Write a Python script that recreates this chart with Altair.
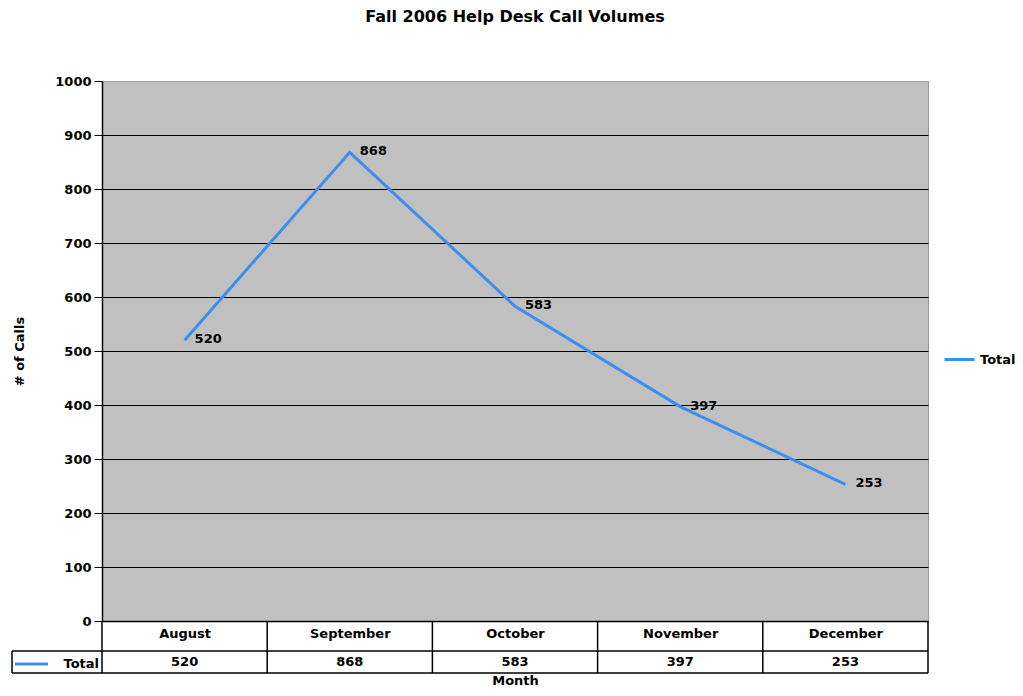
import altair as alt
import pandas as pd

months = ["August", "September", "October", "November", "December"]
calls = [520, 868, 583, 397, 253]
series = ["Total"]
y_ticks = [0, 100, 200, 300, 400, 500, 600, 700, 800, 900, 1000]

df = pd.DataFrame({"month": months, "calls": calls, "series": series * len(months)})
sdf = pd.DataFrame({"series": series})

W, H = 826, 540
STEP = W / len(months)
ROW1 = 570
ROW2 = 592
BLUE = "#3a8ff0"
FONT = "DejaVu Sans"
FS = 13

xs = alt.Scale(type="point", padding=0.5)
x_enc = alt.X("month:O", sort=months, scale=xs)

base = alt.Chart(df)

line = base.mark_line(strokeWidth=3).encode(
    x=alt.X(
        "month:O", sort=months, scale=xs,
        axis=alt.Axis(
            title="Month", labelAngle=0, ticks=False, tickSize=0, domainColor="black",
            domainWidth=1.5, labelPadding=6, labelFont=FONT, labelFontWeight="bold",
            labelFontSize=FS, labelColor="black", titleFont=FONT, titleFontWeight="bold",
            titleFontSize=FS, titleColor="black", titleY=66, titleBaseline="bottom",
        ),
    ),
    y=alt.Y(
        "calls:Q", scale=alt.Scale(domain=[0, 1000], nice=False),
        axis=alt.Axis(
            title="# of Calls", values=y_ticks, format="d", grid=True,
            gridColor={"condition": {"test": "datum.value == 1000", "value": "#9a9a9a"}, "value": "black"},
            gridWidth=1, domainColor="black", domainWidth=1.5, tickColor="black", tickSize=8,
            labelPadding=3, labelFont=FONT, labelFontWeight="bold", labelFontSize=FS,
            labelColor="black", titleFont=FONT, titleFontWeight="bold", titleFontSize=FS,
            titleColor="black", titleX=-76, titleY=H / 2, titleAngle=-90,
        ),
    ),
    color=alt.Color(
        "series:N", scale=alt.Scale(domain=series, range=[BLUE]),
        legend=alt.Legend(
            title=None, orient="none", legendX=841, legendY=262, symbolType="stroke",
            symbolStrokeWidth=3, symbolSize=900, labelFont=FONT, labelFontWeight="bold",
            labelFontSize=FS, labelColor="black",
        ),
    ),
)

labels = base.mark_text(
    align="left", baseline="middle", dx=10, dy=-1, font=FONT, fontWeight="bold",
    fontSize=FS, color="black",
).encode(x=x_enc, y="calls:Q", text="calls:Q")

table_vals = base.mark_text(
    align="center", baseline="middle", font=FONT, fontWeight="bold", fontSize=FS, color="black",
).encode(x=x_enc, y=alt.value((ROW1 + ROW2) / 2), text="calls:Q")

vrules = base.mark_rule(color="black", strokeWidth=1.5, xOffset=-STEP / 2).encode(
    x=x_enc, y=alt.value(H), y2=alt.value(ROW2)
)

edge = alt.Chart(sdf).mark_rule(color="black", strokeWidth=1.5)
right_rule = edge.encode(x=alt.value(W), y=alt.value(H), y2=alt.value(ROW2))
left_rule = edge.encode(x=alt.value(-90), y=alt.value(ROW1), y2=alt.value(ROW2))
hrule1 = edge.encode(x=alt.value(-90), x2=alt.value(W), y=alt.value(ROW1))
hrule2 = edge.encode(x=alt.value(-90), x2=alt.value(W), y=alt.value(ROW2))

leg_line = alt.Chart(sdf).mark_rule(color=BLUE, strokeWidth=3).encode(
    x=alt.value(-87), x2=alt.value(-54), y=alt.value((ROW1 + ROW2) / 2 + 2)
)
leg_text = alt.Chart(sdf).mark_text(
    align="right", baseline="middle", font=FONT, fontWeight="bold", fontSize=FS, color="black",
).encode(x=alt.value(-3), y=alt.value((ROW1 + ROW2) / 2 + 2), text="series:N")

chart = alt.layer(
    line, labels, table_vals, vrules, right_rule, left_rule, hrule1, hrule2, leg_line, leg_text
).properties(
    width=W, height=H,
    title=alt.Title(
        "Fall 2006 Help Desk Call Volumes", font=FONT, fontSize=16, fontWeight="bold",
        color="black", offset=50, anchor="middle",
    ),
    autosize=alt.AutoSizeParams(type="none"),
    padding={"left": 94, "top": 73, "right": 87, "bottom": 67},
).configure_view(fill="#c0c0c0", stroke="#9a9a9a")

chart.save("out.html", embed_options={"renderer": "svg", "actions": False})
